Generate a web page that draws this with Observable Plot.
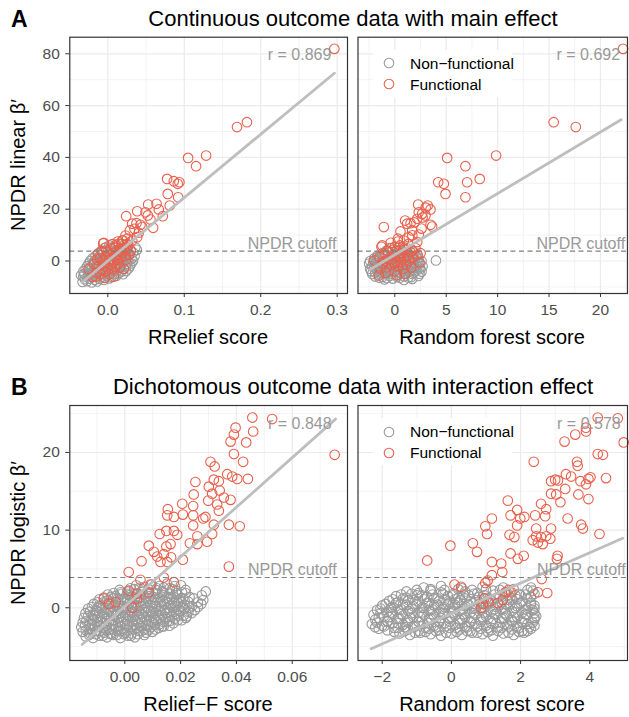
<!DOCTYPE html>
<html><head><meta charset="utf-8">
<script src="https://cdn.jsdelivr.net/npm/d3@7"></script>
<script src="https://cdn.jsdelivr.net/npm/@observablehq/plot@0.6"></script>
<style>
body{margin:0;background:#fff}
#root{position:relative;width:629px;height:717px;background:#fff;font-family:"Liberation Sans",Arial,Helvetica,sans-serif;overflow:hidden}
.t{position:absolute;white-space:nowrap;line-height:1;color:#000}
.p{position:absolute}
</style></head><body><div id="root"></div>
<script>
// ---------- text ----------
const rowLetters = ["A", "B"];
const rowTitles = ["Continuous outcome data with main effect", "Dichotomous outcome data with interaction effect"];
const yTitles = ["NPDR linear β′", "NPDR logistic β′"];
const xTitles = [["RRelief score", "Random forest score"], ["Relief−F score", "Random forest score"]];
const rLabels = [["r = 0.869", "r = 0.692"], ["r = 0.848", "r = 0.578"]];
const cutoffLabel = "NPDR cutoff";
const legendLabels = ["Non−functional", "Functional"];
const cutoffs = [3.8, 3.9];

// ---------- ticks ----------
const a1XMajor = [0, 0.1, 0.2, 0.3], a1XMinor = [0.05, 0.15, 0.25];
const a2XMajor = [0, 5, 10, 15, 20], a2XMinor = [-2.5, 2.5, 7.5, 12.5, 17.5, 22.5];
const aYMajor = [0, 20, 40, 60, 80], aYMinor = [-10, 10, 30, 50, 70];
const b1XMajor = [0, 0.02, 0.04, 0.06], b1XMinor = [-0.01, 0.01, 0.03, 0.05, 0.07];
const b2XMajor = [-2, 0, 2, 4], b2XMinor = [-1, 1, 3, 5];
const bYMajor = [0, 10, 20], bYMinor = [-5, 5, 15, 25];

// ---------- fitted lines (end points) ----------
const fitA1 = [[-0.0335, -8.2], [0.2963, 72.5]];
const fitA2 = [[-2.4, -3.3], [22.0, 54.5]];
const fitB1 = [[-0.0153, -4.72], [0.0755, 24.3]];
const fitB2 = [[-2.32, -5.28], [4.95, 8.96]];

// ---------- A1: RRelief score vs NPDR linear ----------
const a1Gray = [
[-0.033,-8.1],[-0.027,-7.8],[-0.021,-8.3],[-0.014,-7.9],
[-0.030,-7.0],[-0.024,-6.8],[-0.017,-7.2],[-0.011,-6.9],[-0.005,-7.3],[0.002,-6.7],
[-0.035,-5.5],[-0.032,-6.0],[-0.026,-5.8],[-0.020,-6.1],[-0.013,-5.9],[-0.008,-6.2],[-0.001,-5.7],[0.005,-6.1],[0.011,-5.8],
[-0.031,-5.0],[-0.024,-4.8],[-0.018,-5.1],[-0.011,-4.9],[-0.005,-5.2],[0.001,-4.7],[0.008,-5.0],[0.014,-4.8],[0.020,-5.1],
[-0.032,-4.0],[-0.026,-3.8],[-0.019,-4.1],[-0.013,-3.9],[-0.007,-4.2],[0.000,-3.8],[0.006,-4.1],[0.012,-3.7],[0.018,-4.0],[0.024,-3.9],
[-0.029,-3.0],[-0.023,-2.8],[-0.016,-3.1],[-0.010,-2.9],[-0.004,-3.2],[0.003,-2.8],[0.009,-3.1],[0.015,-2.7],[0.021,-3.0],[0.027,-2.9],
[-0.027,-2.0],[-0.021,-1.8],[-0.015,-2.1],[-0.008,-1.9],[-0.002,-2.2],[0.004,-1.8],[0.011,-2.0],[0.017,-1.7],[0.023,-2.1],[0.029,-1.9],
[-0.025,-1.0],[-0.019,-0.8],[-0.012,-1.1],[-0.006,-0.9],[0.001,-1.2],[0.007,-0.8],[0.013,-1.0],[0.019,-0.7],[0.025,-1.1],[0.031,-0.9],
[-0.023,0.0],[-0.017,0.2],[-0.010,-0.1],[-0.004,0.1],[0.002,-0.2],[0.009,0.2],[0.015,0.0],[0.021,0.3],[0.027,-0.1],[0.033,0.1],
[-0.020,1.0],[-0.013,1.2],[-0.007,0.9],[-0.001,1.1],[0.006,0.8],[0.012,1.2],[0.018,1.0],[0.024,1.3],[0.031,0.9],
[-0.016,2.0],[-0.010,2.2],[-0.004,1.9],[0.003,2.1],[0.009,1.8],[0.015,2.2],[0.021,2.0],[0.028,2.3],[0.035,1.9],
[-0.012,3.0],[-0.006,3.2],[0.001,2.9],[0.007,3.1],[0.013,2.8],[0.019,3.2],[0.026,3.0],[0.033,3.3],
[-0.008,4.0],[-0.002,4.2],[0.005,3.9],[0.011,4.1],[0.017,3.8],[0.023,4.2],[0.030,4.0],[0.038,4.3],
[-0.004,5.0],[0.003,5.2],[0.010,4.9],[0.017,5.1],[0.024,5.0],[0.036,5.3],
[0.002,6.0],[0.011,6.3],[0.021,6.1]
];
const a1Red = [
[0.2963,81.9],[0.182,53.6],[0.169,51.7],[0.1286,40.7],[0.105,39.8],[0.1155,36.6],[0.0776,31.7],[0.0863,30.8],[0.0915,29.8],[0.0937,30.4],
[0.0784,25.9],[0.092,24.6],[0.081,21.4],[0.0528,21.8],[0.0637,22.1],[0.0667,19.9],[0.0384,19.2],[0.0493,18.8],[0.0523,17.6],[0.024,17.3],
[0.0719,17.3],[0.0558,16.0],[0.0319,14.4],[0.0375,14.6],[0.0427,14.0],[0.045,13.1],[0.0593,12.8],[0.0349,12.4],[0.0288,11.8],[0.0405,10.9],
[0.0231,9.8],[0.0253,8.6],[0.0384,9.2],[0.0188,7.9],[-0.0052,7.0],[0.0078,5.3],[0.0144,6.6],[0.0253,6.6],[0.032,7.9],
[-0.020,-6.2],[-0.025,-3.0],[0.021,-3.0],[-0.015,-4.5],[-0.010,-5.0],[-0.012,-2.0],[-0.008,-3.5],[-0.005,-1.0],[-0.003,-4.0],[0.000,-2.5],
[0.002,-5.2],[0.004,-1.5],[0.006,-3.2],[0.008,-0.5],[0.010,-2.2],[0.012,0.5],[0.014,-1.0],[-0.018,-1.2],[-0.014,0.5],[-0.010,1.0],
[-0.006,0.2],[-0.002,1.5],[0.001,0.5],[0.003,2.5],[0.005,1.0],[0.007,3.0],[0.009,1.8],[0.011,3.5],[0.013,2.2],[0.015,4.0],
[0.017,1.5],[0.019,3.0],[0.021,5.0],[0.023,2.0],[0.025,4.5],[0.027,6.0],[0.018,6.5],[0.010,5.5],[0.004,4.8],[-0.003,5.2],
[-0.008,3.8],[-0.013,2.8],[0.000,3.5],[0.006,6.5],[-0.006,6.8],[0.016,-2.5],[0.024,0.5],[0.028,2.5],[0.030,4.0],[-0.016,-6.0],
[-0.004,-6.5],[0.008,-6.0],[0.013,7.5],[0.020,8.0]
];

// ---------- A2: random forest score vs NPDR linear ----------
const a2Gray = [
[-1.0,-7.1],[-0.2,-6.8],[0.9,-7.3],[1.7,-6.9],
[-1.9,-6.0],[-1.2,-6.2],[-0.5,-5.8],[0.2,-6.1],[0.9,-5.9],[1.6,-6.2],[2.3,-5.8],
[-2.2,-5.0],[-1.6,-4.8],[-0.9,-5.1],[-0.3,-4.9],[0.4,-5.2],[1.0,-4.8],[1.7,-5.0],[2.4,-4.9],
[-2.3,-4.0],[-1.7,-3.8],[-1.0,-4.1],[-0.4,-3.9],[0.2,-4.2],[0.8,-3.8],[1.4,-4.0],[2.0,-3.9],[2.6,-4.1],
[-2.4,-3.0],[-1.8,-2.8],[-1.1,-3.1],[-0.5,-2.9],[0.1,-3.2],[0.7,-2.8],[1.3,-3.0],[1.9,-2.7],[2.5,-3.1],
[-2.2,-2.0],[-1.6,-1.8],[-0.9,-2.1],[-0.3,-1.9],[0.3,-2.2],[0.9,-1.8],[1.5,-2.0],[2.1,-1.7],[2.7,-2.0],
[-2.5,-1.0],[-1.9,-0.8],[-1.2,-1.1],[-0.6,-0.9],[0.0,-1.2],[0.6,-0.8],[1.2,-1.0],[1.8,-0.7],[2.4,-1.1],
[-2.4,0.0],[-1.8,0.2],[-1.1,-0.1],[-0.5,0.1],[0.1,-0.2],[0.7,0.2],[1.3,0.0],[1.9,0.3],[2.6,-0.1],[4.0,0.2],
[-2.0,1.0],[-1.4,1.2],[-0.7,0.9],[-0.1,1.1],[0.5,0.8],[1.1,1.2],[1.7,1.0],[2.3,1.3],
[-1.7,2.0],[-1.1,2.2],[-0.4,1.9],[0.2,2.1],[0.8,1.8],[1.4,2.2],[2.0,2.0],
[-1.2,3.0],[-0.6,3.2],[0.1,2.9],[0.7,3.1],[1.3,2.8],[1.9,3.2],
[-0.8,4.0],[-0.2,4.2],[0.5,3.9],[1.1,4.1],[1.7,3.8],
[-0.3,5.0],[0.5,5.3],[1.2,4.9],
[-1.5,-6.5],[-0.8,-6.6],[0.5,-6.5],[1.3,-6.4],[-1.9,-4.4],[-1.3,-4.5],[-0.7,-4.4],[0.5,-4.6],[1.1,-4.4],[1.8,-4.5],
[-2.0,-2.4],[-1.4,-2.5],[-0.7,-2.4],[0.0,-2.5],[0.6,-2.3],[1.2,-2.5],[1.8,-2.3],[2.4,-2.5],
[-2.1,-0.4],[-1.5,-0.5],[-0.8,-0.4],[-0.2,-0.5],[0.4,-0.3],[1.0,-0.5],[1.6,-0.4],[2.2,-0.4],
[-1.7,1.5],[-1.0,1.6],[-0.4,1.5],[0.2,1.6],[0.9,1.5],[1.5,1.6],[2.1,1.6]
];
const a2Red = [
[22.2,81.9],[15.45,53.6],[17.6,51.7],[5.09,39.8],[9.85,40.7],[6.87,36.6],[4.22,30.4],[4.77,29.8],[7.03,30.4],[8.26,31.7],
[4.93,25.9],[6.87,24.6],[-1.07,13.1],[2.27,21.8],[3.2,21.4],[3.47,19.9],[2.33,18.8],[2.66,18.2],[2.98,17.6],[1.2,14.4],
[1.53,14.6],[3.47,14.0],[3.63,13.3],[2.18,16.3],[1.69,11.8],[0.55,11.4],[2.33,10.2],[1.36,9.2],[0.87,7.9],[2.18,7.3],
[-1.22,6.0],[1.0,15.6],[2.6,12.5],[1.9,14.9],[3.0,20.6],[2.7,16.8],[0.3,8.6],[1.7,9.9],
[-1.39,-3.0],[-1.55,-5.6],[-2.0,0.2],[-1.5,1.5],[-1.2,-1.0],[-1.0,3.0],[-0.8,-2.5],[-0.6,0.5],[-0.5,5.0],[-0.3,-1.5],
[-0.2,2.5],[0.0,-4.0],[0.1,0.0],[0.2,4.0],[0.3,-2.0],[0.4,1.5],[0.5,6.0],[0.6,-0.5],[0.7,3.0],[0.8,-3.0],
[0.9,1.0],[1.0,4.5],[1.1,-1.5],[1.2,2.0],[1.3,6.5],[1.4,0.0],[1.5,3.5],[1.6,-2.5],[1.8,1.5],[2.0,5.0],
[2.2,2.5],[2.4,-0.5],[-0.9,-4.5],[0.2,-5.5],[1.0,-5.0],[-0.4,7.0],[0.3,7.5],[-1.0,0.0],[-0.1,-0.8],[0.5,2.0],
[1.7,4.0],[2.5,3.0],[-0.7,4.0],[0.0,5.5],[0.8,5.5],[-1.3,5.5]
];

// ---------- B1: Relief-F score vs NPDR logistic ----------
const b1Gray = [
[-0.0140,-3.7],[-0.0114,-3.9],[-0.0091,-3.6],[-0.0064,-3.8],[-0.0041,-3.5],[-0.0016,-3.9],[0.0011,-3.6],[0.0036,-3.8],
[-0.0151,-3.1],[-0.0124,-3.3],[-0.0101,-3.0],[-0.0074,-3.2],[-0.0049,-3.4],[-0.0026,-3.0],[0.0001,-3.2],[0.0024,-3.3],[0.0051,-3.0],[0.0076,-3.2],[0.0099,-3.1],
[-0.0156,-2.5],[-0.0129,-2.7],[-0.0106,-2.4],[-0.0079,-2.6],[-0.0054,-2.8],[-0.0031,-2.5],[-0.0004,-2.7],[0.0021,-2.4],[0.0044,-2.6],[0.0071,-2.8],[0.0094,-2.5],[0.0121,-2.6],[0.0139,-2.4],
[-0.0151,-1.9],[-0.0126,-2.1],[-0.0099,-1.8],[-0.0076,-2.0],[-0.0049,-2.2],[-0.0024,-1.9],[0.0001,-2.1],[0.0026,-1.8],[0.0049,-2.0],[0.0076,-2.2],[0.0099,-1.9],[0.0126,-2.1],[0.0151,-1.8],[0.0174,-2.0],
[-0.0146,-1.3],[-0.0119,-1.5],[-0.0096,-1.2],[-0.0069,-1.4],[-0.0044,-1.6],[-0.0021,-1.3],[0.0006,-1.5],[0.0029,-1.2],[0.0056,-1.4],[0.0079,-1.6],[0.0106,-1.3],[0.0129,-1.5],[0.0156,-1.2],[0.0179,-1.4],[0.0204,-1.6],[0.0219,-1.3],
[-0.0141,-0.7],[-0.0114,-0.9],[-0.0091,-0.6],[-0.0064,-0.8],[-0.0039,-1.0],[-0.0016,-0.7],[0.0011,-0.9],[0.0034,-0.6],[0.0061,-0.8],[0.0084,-1.0],[0.0111,-0.7],[0.0134,-0.9],[0.0161,-0.6],[0.0184,-0.8],[0.0211,-1.0],[0.0239,-0.7],
[-0.0131,-0.1],[-0.0104,-0.3],[-0.0081,0.0],[-0.0054,-0.2],[-0.0029,-0.4],[-0.0006,-0.1],[0.0021,-0.3],[0.0044,0.0],[0.0071,-0.2],[0.0094,-0.4],[0.0121,-0.1],[0.0144,-0.3],[0.0171,0.0],[0.0194,-0.2],[0.0214,-0.1],[0.0251,-0.3],
[-0.0111,0.5],[-0.0086,0.3],[-0.0059,0.6],[-0.0036,0.4],[-0.0009,0.2],[0.0014,0.5],[0.0041,0.3],[0.0064,0.6],[0.0091,0.4],[0.0114,0.2],[0.0141,0.5],[0.0164,0.3],[0.0191,0.6],[0.0214,0.4],[0.0241,0.2],[0.0274,0.5],
[-0.0091,1.1],[-0.0064,0.9],[-0.0041,1.2],[-0.0014,1.0],[0.0009,0.8],[0.0036,1.1],[0.0059,0.9],[0.0086,1.2],[0.0109,1.0],[0.0136,0.8],[0.0159,1.1],[0.0186,0.9],[0.0209,1.2],[0.0247,1.2],[0.0281,1.0],
[-0.0061,1.7],[-0.0034,1.5],[-0.0011,1.8],[0.0016,1.6],[0.0039,1.4],[0.0066,1.7],[0.0089,1.5],[0.0116,1.8],[0.0139,1.6],[0.0166,1.4],[0.0189,1.7],[0.0218,1.9],[0.0276,1.6],
[-0.0019,2.3],[0.0009,2.1],[0.0034,2.4],[0.0061,2.2],[0.0084,2.0],[0.0111,2.3],[0.0134,2.1],[0.0161,2.5],[0.0184,2.2],[0.0218,2.3],[0.0290,2.1],
[0.0041,2.9],[0.0069,2.7],[0.0096,3.0],[0.0124,2.8],[0.0151,3.1],[0.0179,2.8],[0.0201,2.9],
[-0.0128,-3.5],[-0.0103,-3.4],[-0.0078,-3.6],[-0.0053,-3.3],[-0.0028,-3.5],[-0.0003,-3.4],[0.0022,-3.6],[0.0047,-3.4],[0.0070,-3.5],
[-0.0140,-2.9],[-0.0115,-2.8],[-0.0090,-3.0],[-0.0065,-2.9],[-0.0040,-2.8],[-0.0015,-3.0],[0.0010,-2.9],[0.0035,-2.8],[0.0060,-3.0],[0.0085,-2.9],[0.0110,-2.8],
[-0.0142,-2.3],[-0.0117,-2.2],[-0.0092,-2.4],[-0.0067,-2.3],[-0.0042,-2.2],[-0.0017,-2.4],[0.0008,-2.3],[0.0033,-2.2],[0.0058,-2.4],[0.0083,-2.3],[0.0108,-2.2],[0.0133,-2.4],[0.0160,-2.3],
[-0.0138,-1.7],[-0.0113,-1.6],[-0.0088,-1.8],[-0.0063,-1.7],[-0.0038,-1.6],[-0.0013,-1.8],[0.0012,-1.7],[0.0037,-1.6],[0.0062,-1.8],[0.0087,-1.7],[0.0112,-1.6],[0.0137,-1.8],[0.0162,-1.7],[0.0190,-1.6],
[-0.0132,-1.1],[-0.0107,-1.0],[-0.0082,-1.2],[-0.0057,-1.1],[-0.0032,-1.0],[-0.0007,-1.2],[0.0018,-1.1],[0.0043,-1.0],[0.0068,-1.2],[0.0093,-1.1],[0.0118,-1.0],[0.0143,-1.2],[0.0168,-1.1],[0.0193,-1.0],[0.0222,-1.1],
[-0.0125,-0.5],[-0.0100,-0.4],[-0.0075,-0.6],[-0.0050,-0.5],[-0.0025,-0.4],[0.0000,-0.6],[0.0025,-0.5],[0.0050,-0.4],[0.0075,-0.6],[0.0100,-0.5],[0.0125,-0.4],[0.0150,-0.6],[0.0175,-0.5],[0.0200,-0.4],[0.0228,-0.5],
[-0.0118,0.1],[-0.0093,0.2],[-0.0068,0.0],[-0.0043,0.1],[-0.0018,0.2],[0.0007,0.0],[0.0032,0.1],[0.0057,0.2],[0.0082,0.0],[0.0107,0.1],[0.0132,0.2],[0.0157,0.0],[0.0182,0.1],[0.0207,0.2],[0.0232,0.0],[0.0262,0.1],
[-0.0098,0.7],[-0.0073,0.8],[-0.0048,0.6],[-0.0023,0.7],[0.0002,0.8],[0.0027,0.6],[0.0052,0.7],[0.0077,0.8],[0.0102,0.6],[0.0127,0.7],[0.0152,0.8],[0.0177,0.6],[0.0202,0.7],[0.0227,0.8],[0.0262,0.7],
[-0.0075,1.3],[-0.0050,1.4],[-0.0025,1.2],[0.0000,1.3],[0.0025,1.4],[0.0050,1.2],[0.0075,1.3],[0.0100,1.4],[0.0125,1.2],[0.0150,1.3],[0.0175,1.4],[0.0200,1.2],[0.0232,1.4],
[-0.0040,1.9],[-0.0015,2.0],[0.0010,1.8],[0.0035,1.9],[0.0060,2.0],[0.0085,1.8],[0.0110,1.9],[0.0135,2.0],[0.0160,1.8],[0.0185,1.9],[0.0205,2.0],
[0.0020,2.5],[0.0055,2.6],[0.0085,2.4],[0.0115,2.5],[0.0140,2.6],[0.0170,2.4]
];
const b1Red = [
[0.0457,24.5],[0.0528,24.3],[0.046,22.7],[0.0397,23.2],[0.0391,22.3],[0.0379,21.4],[0.0435,21.3],[0.0391,19.8],[0.0424,18.8],[0.0752,19.7],
[0.0307,18.8],[0.0322,18.2],[0.0367,17.2],[0.0385,16.9],[0.0403,16.6],[0.0441,16.6],[0.0253,16.2],[0.0319,16.5],[0.0337,16.3],[0.0301,15.6],
[0.034,15.1],[0.0247,14.6],[0.0313,14.7],[0.0355,14.2],[0.0379,13.9],[0.0299,13.8],[0.0331,13.3],[0.0206,13.4],[0.0245,13.1],[0.0154,12.7],
[0.0176,11.7],[0.0208,12.0],[0.0245,11.9],[0.0281,11.5],[0.0289,11.7],[0.0337,12.5],[0.0152,11.9],[0.0245,10.6],[0.0319,10.7],[0.0373,10.7],
[0.0412,10.5],[0.0149,9.9],[0.0125,9.5],[0.0176,9.9],[0.0188,9.4],[0.026,9.2],[0.0313,9.5],[0.0295,8.5],[0.0233,8.3],[0.026,8.2],
[0.0164,8.2],[0.0086,8.0],[0.0149,7.9],[0.0104,7.2],[0.0116,6.6],[0.014,6.9],[0.0166,6.5],[0.0128,5.9],[0.0152,5.9],[0.006,6.0],
[0.0208,6.2],[0.0373,5.3],[0.0014,4.6],[0.0056,3.6],[0.014,3.9],[0.0176,3.3],[0.0092,3.0],[0.0086,2.0],[0.0014,2.2],[0.0044,1.8],
[0.0044,1.2],[-0.0075,1.2],[-0.0057,0.5],[-0.0033,0.7],[0.0027,0.0]
];

// ---------- B2: random forest score vs NPDR logistic ----------
const b2Gray = [
[-1.5,-3.3],[-1.2,-3.5],[-0.9,-3.2],[-0.6,-3.4],[-0.3,-3.6],[0.0,-3.3],[0.3,-3.5],[0.6,-3.2],[0.9,-3.4],[1.2,-3.6],[1.5,-3.3],[1.8,-3.5],[2.1,-3.2],
[-2.1,-2.7],[-1.85,-2.9],[-1.55,-2.6],[-1.25,-2.8],[-0.95,-3.0],[-0.65,-2.7],[-0.35,-2.9],[-0.05,-2.6],[0.25,-2.8],[0.55,-3.0],[0.85,-2.7],[1.15,-2.9],[1.45,-2.6],[1.75,-2.8],[2.05,-3.0],[2.3,-2.7],
[-2.3,-2.1],[-2.0,-2.3],[-1.7,-2.0],[-1.4,-2.2],[-1.1,-2.4],[-0.8,-2.1],[-0.5,-2.3],[-0.2,-2.0],[0.1,-2.2],[0.4,-2.4],[0.7,-2.1],[1.0,-2.3],[1.3,-2.0],[1.6,-2.2],[1.9,-2.4],[2.2,-2.1],[2.4,-2.3],
[-2.2,-1.5],[-1.85,-1.7],[-1.55,-1.4],[-1.25,-1.6],[-0.95,-1.8],[-0.65,-1.5],[-0.35,-1.7],[-0.05,-1.4],[0.25,-1.6],[0.55,-1.8],[0.85,-1.5],[1.15,-1.7],[1.45,-1.4],[1.75,-1.6],[2.05,-1.8],[2.4,-1.5],
[-2.25,-0.9],[-1.95,-1.1],[-1.7,-0.8],[-1.4,-1.0],[-1.1,-1.2],[-0.8,-0.9],[-0.5,-1.1],[-0.2,-0.8],[0.1,-1.0],[0.4,-1.2],[0.7,-0.9],[1.0,-1.1],[1.3,-0.8],[1.6,-1.0],[1.9,-1.2],[2.2,-0.9],[2.45,-1.1],
[-2.15,-0.3],[-1.85,-0.5],[-1.55,-0.2],[-1.25,-0.4],[-0.95,-0.6],[-0.65,-0.3],[-0.35,-0.5],[-0.05,-0.2],[0.25,-0.4],[0.55,-0.6],[0.85,-0.3],[1.15,-0.5],[1.45,-0.2],[1.75,-0.4],[2.05,-0.6],[2.35,-0.3],
[-2.0,0.3],[-1.7,0.1],[-1.4,0.4],[-1.1,0.2],[-0.8,0.0],[-0.5,0.3],[-0.2,0.1],[0.1,0.4],[0.4,0.2],[0.7,0.0],[1.0,0.3],[1.3,0.1],[1.6,0.4],[1.9,0.2],[2.2,0.0],[2.4,0.3],
[-1.8,0.9],[-1.55,0.7],[-1.25,1.0],[-0.95,0.8],[-0.65,0.6],[-0.35,0.9],[-0.05,0.7],[0.25,1.0],[0.55,0.8],[0.85,0.6],[1.15,0.9],[1.45,0.7],[1.75,1.0],[2.05,0.8],[2.3,0.6],
[-1.6,1.5],[-1.3,1.3],[-1.0,1.6],[-0.7,1.4],[-0.4,1.2],[-0.1,1.5],[0.2,1.3],[0.5,1.6],[0.8,1.4],[1.1,1.2],[1.4,1.5],[1.7,1.3],[2.0,1.6],[2.3,1.4],
[-1.3,2.1],[-0.95,1.9],[-0.6,2.2],[-0.3,2.0],[0.05,1.8],[0.4,2.1],[0.75,1.9],[1.2,2.2],[1.6,2.0],[1.95,1.8],[2.35,2.2],
[-0.8,2.6],[-0.3,2.8],[0.3,2.5],[0.9,2.7],[1.5,2.6],[2.3,2.6],
[-1.65,-3.1],[-1.35,-3.0],[-1.05,-3.2],[-0.75,-3.1],[-0.45,-3.0],[-0.15,-3.2],[0.15,-3.1],[0.45,-3.0],[0.75,-3.2],[1.05,-3.1],[1.35,-3.0],[1.65,-3.2],[1.95,-3.1],[2.2,-3.0],
[-2.2,-2.5],[-1.95,-2.4],[-1.65,-2.6],[-1.35,-2.5],[-1.05,-2.4],[-0.75,-2.6],[-0.45,-2.5],[-0.15,-2.4],[0.15,-2.6],[0.45,-2.5],[0.75,-2.4],[1.05,-2.6],[1.35,-2.5],[1.65,-2.4],[1.95,-2.6],[2.25,-2.5],
[-2.15,-1.9],[-1.85,-1.8],[-1.55,-2.0],[-1.25,-1.9],[-0.95,-1.8],[-0.65,-2.0],[-0.35,-1.9],[-0.05,-1.8],[0.25,-2.0],[0.55,-1.9],[0.85,-1.8],[1.15,-2.0],[1.45,-1.9],[1.75,-1.8],[2.05,-2.0],[2.35,-1.9],
[-2.1,-1.3],[-1.8,-1.2],[-1.5,-1.4],[-1.2,-1.3],[-0.9,-1.2],[-0.6,-1.4],[-0.3,-1.3],[0.0,-1.2],[0.3,-1.4],[0.6,-1.3],[0.9,-1.2],[1.2,-1.4],[1.5,-1.3],[1.8,-1.2],[2.1,-1.4],[2.4,-1.3],
[-2.05,-0.7],[-1.75,-0.6],[-1.45,-0.8],[-1.15,-0.7],[-0.85,-0.6],[-0.55,-0.8],[-0.25,-0.7],[0.05,-0.6],[0.35,-0.8],[0.65,-0.7],[0.95,-0.6],[1.25,-0.8],[1.55,-0.7],[1.85,-0.6],[2.15,-0.8],[2.4,-0.7],
[-2.05,-0.1],[-1.75,0.0],[-1.45,-0.2],[-1.15,-0.1],[-0.85,0.0],[-0.55,-0.2],[-0.25,-0.1],[0.05,0.0],[0.35,-0.2],[0.65,-0.1],[0.95,0.0],[1.25,-0.2],[1.55,-0.1],[1.85,0.0],[2.15,-0.2],[2.4,-0.1],
[-1.9,0.5],[-1.6,0.6],[-1.3,0.4],[-1.0,0.5],[-0.7,0.6],[-0.4,0.4],[-0.1,0.5],[0.2,0.6],[0.5,0.4],[0.8,0.5],[1.1,0.6],[1.4,0.4],[1.7,0.5],[2.0,0.6],[2.3,0.4],
[-1.7,1.1],[-1.4,1.2],[-1.1,1.0],[-0.8,1.1],[-0.5,1.2],[-0.2,1.0],[0.1,1.1],[0.4,1.2],[0.7,1.0],[1.0,1.1],[1.3,1.2],[1.6,1.0],[1.9,1.1],[2.2,1.2],
[-1.45,1.7],[-1.15,1.8],[-0.85,1.6],[-0.55,1.7],[-0.25,1.8],[0.05,1.6],[0.35,1.7],[0.65,1.8],[0.95,1.6],[1.25,1.7],[1.55,1.8],[1.85,1.6],[2.15,1.7],[2.4,1.8],
[-1.0,2.3],[-0.6,2.4],[-0.2,2.3],[0.2,2.4],[0.6,2.3],[1.0,2.4],[1.4,2.3],[1.8,2.4],[2.2,2.3]
];
const b2Red = [
[4.23,24.5],[4.81,24.4],[3.89,23.2],[3.89,22.7],[3.58,22.3],[3.27,21.4],[4.98,21.3],[2.38,18.8],[4.23,19.8],[4.38,19.7],
[3.63,18.8],[3.65,18.3],[3.31,17.2],[3.46,16.9],[3.0,16.5],[2.88,16.3],[3.08,16.4],[3.73,16.3],[3.96,16.6],[4.02,16.8],
[4.47,16.7],[3.89,15.9],[3.29,15.3],[2.88,14.7],[3.03,14.6],[3.67,14.6],[3.96,14.0],[1.63,13.8],[2.59,13.4],[2.74,12.7],
[3.15,13.6],[1.9,12.6],[1.71,11.9],[1.99,11.5],[2.11,11.7],[2.42,11.9],[2.71,11.8],[3.36,11.5],[1.17,11.5],[0.98,10.5],
[1.03,9.5],[1.9,10.6],[2.45,10.2],[2.88,10.2],[3.75,10.7],[3.8,10.2],[4.28,9.5],[1.68,9.4],[1.82,9.1],[2.45,9.2],
[2.59,9.1],[2.74,9.2],[2.35,8.7],[2.5,8.4],[2.64,8.2],[2.86,8.9],[-0.03,8.0],[0.62,8.3],[0.74,7.2],[1.71,7.0],
[1.92,6.3],[2.09,6.7],[3.07,6.7],[3.05,6.3],[-0.7,6.1],[1.17,5.9],[1.44,5.7],[1.47,4.6],[1.17,4.2],[1.05,3.5],
[0.98,3.2],[2.61,3.7],[0.09,3.0],[0.28,2.7],[1.65,2.3],[1.73,2.0],[1.56,2.0],[2.5,2.0],[2.77,1.9],[1.49,1.0],
[0.95,1.2],[0.91,0.5],[1.05,0.8],[1.34,0.6],[0.86,0.0]
];

// ---------- styling ----------
const FONT = '"Liberation Sans", Arial, Helvetica, sans-serif';
const GRAY = "#9a9a9a", RED = "#E8604C";
const DOT_R = 4.8, DOT_W = 1.1;
const root = document.getElementById("root");

function panel(cfg) {
  const all = cfg.gray.concat(cfg.red);
  const xmax = d3.max(all, d => d[0]);
  const ymax = d3.max(all, d => d[1]);
  const X = d => d[0], Y = d => d[1];
  const grid = {stroke: "#EBEBEB", strokeOpacity: 1};
  const marks = [
    Plot.gridX(cfg.xMinor, {...grid, strokeWidth: 0.6}),
    Plot.gridY(cfg.yMinor, {...grid, strokeWidth: 0.6}),
    Plot.gridX(cfg.xMajor, {...grid, strokeWidth: 1.2}),
    Plot.gridY(cfg.yMajor, {...grid, strokeWidth: 1.2}),
    Plot.dot(cfg.gray, {x: X, y: Y, r: DOT_R, stroke: GRAY, fill: "none", strokeWidth: DOT_W}),
    Plot.dot(cfg.red, {x: X, y: Y, r: DOT_R, stroke: RED, fill: "none", strokeWidth: DOT_W}),
    Plot.ruleY([cfg.cutoff], {stroke: "#808080", strokeWidth: 1.1, strokeDasharray: "5,3.5"}),
    Plot.line(cfg.fit, {x: X, y: Y, stroke: "#BEBEBE", strokeWidth: 2.8}),
    Plot.text([cfg.rLabel], {x: () => xmax, y: () => ymax, text: d => d, textAnchor: "end", lineAnchor: "top", fill: "#999999", fontSize: 16, dx: -3}),
    Plot.text([cutoffLabel], {x: () => xmax, y: () => cfg.cutoff, text: d => d, textAnchor: "end", lineAnchor: "bottom", fill: "#999999", fontSize: 16, dx: 2, dy: -2}),
    Plot.axisX({ticks: cfg.xMajor, tickFormat: cfg.xFormat, tickSize: 4, tickPadding: 6, fontSize: 15.5, fill: "#4D4D4D", stroke: "#333333", label: null})
  ];
  if (cfg.showY) marks.push(Plot.axisY({ticks: cfg.yMajor, tickFormat: d3.format("d"), tickSize: 4, tickPadding: 6, fontSize: 15.5, fill: "#4D4D4D", stroke: "#333333", label: null}));
  marks.push(Plot.frame({stroke: "#333333", strokeWidth: 1.2}));
  const svg = Plot.plot({
    width: cfg.width, height: cfg.height,
    marginLeft: cfg.ml, marginRight: cfg.mr, marginTop: cfg.mt, marginBottom: cfg.mb,
    x: {domain: cfg.xDomain, axis: null},
    y: {domain: cfg.yDomain, axis: null},
    style: {fontFamily: FONT, background: "transparent", overflow: "visible"},
    marks
  });
  svg.classList.add("p");
  svg.style.left = cfg.left + "px";
  svg.style.top = cfg.top + "px";
  root.appendChild(svg);
}

const aY = [-12.55, 86.4], bY = [-6.79, 26.05];
panel({gray: a1Gray, red: a1Red, fit: fitA1, cutoff: cutoffs[0], rLabel: rLabels[0][0],
  xDomain: [-0.0497, 0.3135], yDomain: aY, xMajor: a1XMajor, xMinor: a1XMinor, yMajor: aYMajor, yMinor: aYMinor,
  xFormat: d3.format(".1f"), showY: true, left: 0, top: 0, width: 352, height: 330, ml: 69.3, mr: 5, mt: 36.7, mb: 37});
panel({gray: a2Gray, red: a2Red, fit: fitA2, cutoff: cutoffs[0], rLabel: rLabels[0][1],
  xDomain: [-3.58, 22.63], yDomain: aY, xMajor: a2XMajor, xMinor: a2XMinor, yMajor: aYMajor, yMinor: aYMinor,
  xFormat: d3.format("d"), showY: false, left: 352, top: 0, width: 277, height: 330, ml: 5.5, mr: 2, mt: 36.7, mb: 37});
panel({gray: b1Gray, red: b1Red, fit: fitB1, cutoff: cutoffs[1], rLabel: rLabels[1][0],
  xDomain: [-0.01971, 0.0798], yDomain: bY, xMajor: b1XMajor, xMinor: b1XMinor, yMajor: bYMajor, yMinor: bYMinor,
  xFormat: d3.format(".2f"), showY: true, left: 0, top: 360, width: 352, height: 340, ml: 69.3, mr: 5, mt: 45, mb: 40});
panel({gray: b2Gray, red: b2Red, fit: fitB2, cutoff: cutoffs[1], rLabel: rLabels[1][1],
  xDomain: [-2.70, 5.09], yDomain: bY, xMajor: b2XMajor, xMinor: b2XMinor, yMajor: bYMajor, yMinor: bYMinor,
  xFormat: d3.format("d"), showY: false, left: 352, top: 360, width: 277, height: 340, ml: 5.5, mr: 2, mt: 45, mb: 40});

// ---------- text overlays ----------
function addText(str, {cx = null, left = null, baseline, size, weight = "normal", color = "#000"}) {
  const d = document.createElement("div");
  d.className = "t";
  d.textContent = str;
  d.style.fontSize = size + "px";
  d.style.fontWeight = weight;
  d.style.color = color;
  d.style.top = (baseline - 0.846 * size) + "px";
  if (cx !== null) { d.style.left = (cx - 250) + "px"; d.style.width = "500px"; d.style.textAlign = "center"; }
  else d.style.left = left + "px";
  root.appendChild(d);
  return d;
}
function addYTitle(str, cx, cy, size) {
  const d = document.createElement("div");
  d.className = "t";
  d.textContent = str;
  d.style.fontSize = size + "px";
  d.style.width = "300px"; d.style.height = size + "px";
  d.style.textAlign = "center";
  d.style.left = (cx - 150) + "px";
  d.style.top = (cy - size / 2) + "px";
  d.style.transform = "rotate(-90deg)";
  root.appendChild(d);
}
const rowBase = [27, 395], frameTop = [36.7, 405], xTitleBase = [344, 711], frameMid = [165, 532.5];
for (let r = 0; r < 2; r++) {
  addText(rowLetters[r], {left: 11, baseline: rowBase[r], size: 23, weight: "bold"});
  addText(rowTitles[r], {cx: 353, baseline: rowBase[r], size: 22});
  addText(xTitles[r][0], {cx: 208, baseline: xTitleBase[r], size: 20});
  addText(xTitles[r][1], {cx: 492, baseline: xTitleBase[r], size: 20});
  addYTitle(yTitles[r], 18, frameMid[r], 20);
  // legend
  const top = frameTop[r];
  const box = document.createElement("div");
  box.style.cssText = `position:absolute;left:373px;top:${top + 13.3}px;width:139px;height:47px;background:#fff`;
  root.appendChild(box);
  const ns = "http://www.w3.org/2000/svg";
  const lsvg = document.createElementNS(ns, "svg");
  lsvg.setAttribute("width", 20); lsvg.setAttribute("height", 40);
  lsvg.style.cssText = `position:absolute;left:379.3px;top:${top + 16.6}px`;
  [GRAY, RED].forEach((c, i) => {
    const ci = document.createElementNS(ns, "circle");
    ci.setAttribute("cx", 10); ci.setAttribute("cy", 10 + 21 * i); ci.setAttribute("r", DOT_R);
    ci.setAttribute("fill", "none"); ci.setAttribute("stroke", c); ci.setAttribute("stroke-width", DOT_W);
    lsvg.appendChild(ci);
  });
  root.appendChild(lsvg);
  legendLabels.forEach((lab, i) => {
    const cy = top + 26.6 + 21 * i;
    addText(lab, {left: 410, baseline: cy + 0.358 * 15.5, size: 15.5});
  });
}
</script></body></html>
